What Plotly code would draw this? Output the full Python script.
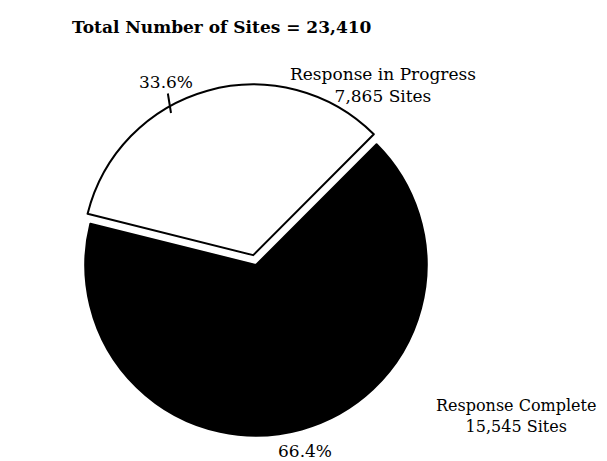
import plotly.graph_objects as go

labels = ["Response in Progress", "Response Complete"]
sites = [7865, 15545]
percent_text = ["33.6%", "66.4%"]
colors = ["white", "black"]
title_text = "Total Number of Sites = 23,410"

serif = "DejaVu Serif, Liberation Serif, serif"

fig = go.Figure()
fig.add_trace(go.Pie(
    labels=labels,
    values=sites,
    sort=False,
    direction="clockwise",
    rotation=-76,
    pull=[0.06, 0],
    marker=dict(colors=colors, line=dict(color="black", width=2)),
    textinfo="none",
    hoverinfo="label+value+percent",
    domain=dict(x=[0.103, 0.714], y=[0.05, 0.835]),
    showlegend=False,
))

fig.add_annotation(x=62 / 607, y=1 - 19 / 461, xref="paper", yref="paper", xanchor="left", yanchor="middle",
                   text="<b>" + title_text + "</b>", showarrow=False,
                   font=dict(family=serif, size=17, color="black"))
fig.add_annotation(x=163 / 607, y=1 - 105 / 461, xref="paper", yref="paper",
                   text=percent_text[0], showarrow=True, arrowhead=0, arrowwidth=2,
                   arrowcolor="black", ax=-5, ay=-31,
                   font=dict(family=serif, size=17, color="black"))
fig.add_annotation(x=375 / 607, y=1 - 77 / 461, xref="paper", yref="paper", xanchor="center", yanchor="middle",
                   text=labels[0] + "<br>" + f"{sites[0]:,} Sites", showarrow=False,
                   font=dict(family=serif, size=17, color="black"))
fig.add_annotation(x=508 / 607, y=1 - 408 / 461, xref="paper", yref="paper", xanchor="center", yanchor="middle",
                   text=labels[1] + "<br>" + f"{sites[1]:,} Sites", showarrow=False,
                   font=dict(family=serif, size=16, color="black"))
fig.add_annotation(x=297 / 607, y=0.012, xref="paper", yref="paper", xanchor="center", yanchor="bottom",
                   text=percent_text[1], showarrow=False,
                   font=dict(family=serif, size=17, color="black"))

fig.update_layout(
    width=607, height=461,
    margin=dict(l=0, r=0, t=0, b=0),
    paper_bgcolor="white", plot_bgcolor="white",
)

fig.write_html("out.html")
